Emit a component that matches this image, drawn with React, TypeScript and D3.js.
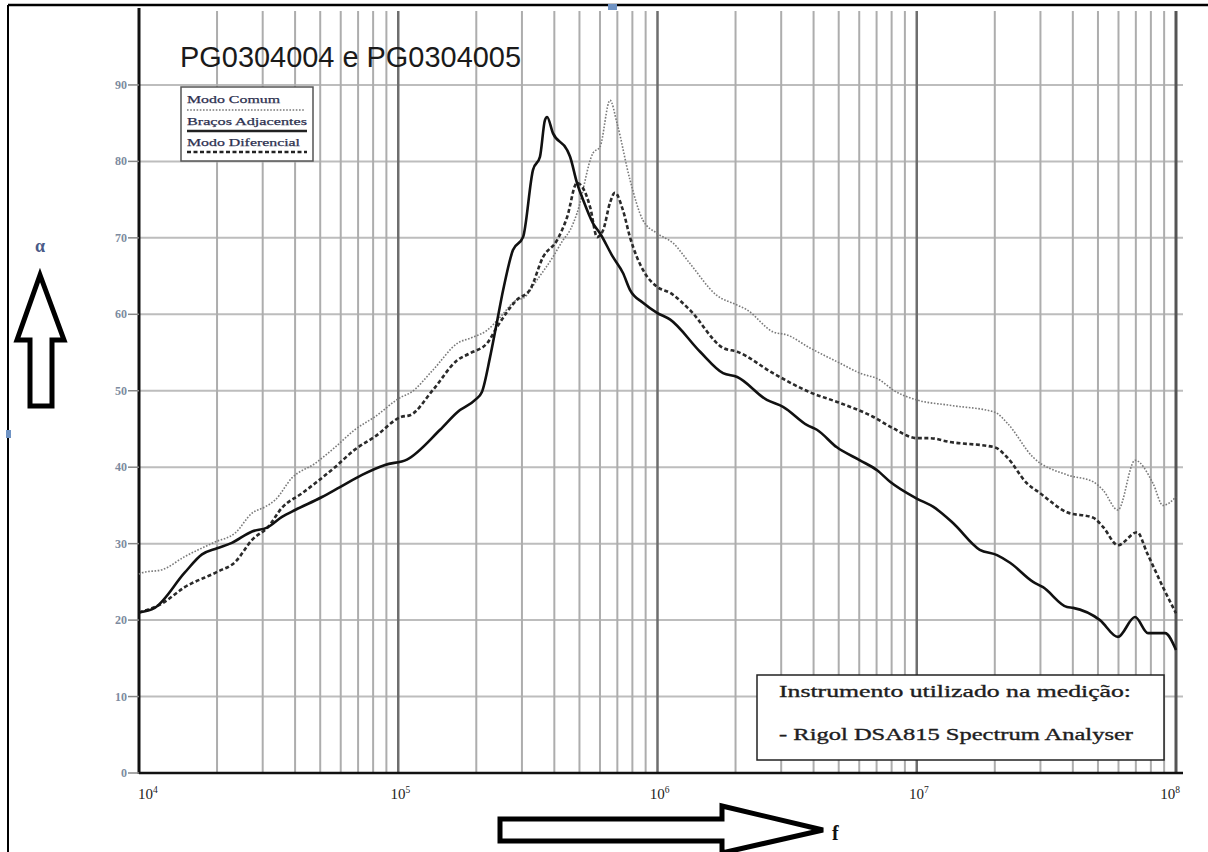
import React from 'react';
import * as d3 from 'd3';

// ---------- data ----------
const title = 'PG0304004 e PG0304005';
const legendLabels = ['Modo Comum', 'Braços Adjacentes', 'Modo Diferencial'];
const noteLines = ['Instrumento utilizado na medição:', '- Rigol DSA815 Spectrum Analyser'];
const xTickExps = [4, 5, 6, 7, 8];
const yTicks = [0, 10, 20, 30, 40, 50, 60, 70, 80, 90];

// Braços Adjacentes (solid)
const freqBracos = [1.0e4, 1.15e4, 1.5e4, 1.75e4, 2.0e4, 2.28e4, 2.73e4, 3.12e4, 3.56e4, 4.0e4, 5.08e4, 5.96e4, 7.25e4, 8.89e4, 1.08e5, 1.45e5, 1.69e5, 1.98e5, 2.1e5, 2.26e5, 2.4e5, 2.54e5, 2.77e5, 3.03e5, 3.31e5, 3.52e5, 3.68e5, 3.75e5, 3.95e5, 4.48e5, 4.6e5, 4.89e5, 5.16e5, 5.64e5, 6.0e5, 6.73e5, 7.36e5, 7.83e5, 8.79e5, 9.96e5, 1.12e6, 1.46e6, 1.79e6, 2.03e6, 2.64e6, 3.05e6, 3.78e6, 4.12e6, 4.92e6, 6.04e6, 7.03e6, 7.89e6, 1.0e7, 1.16e7, 1.38e7, 1.75e7, 2.04e7, 2.29e7, 2.81e7, 3.07e7, 3.8e7, 4.01e7, 5.09e7, 5.97e7, 6.95e7, 7.8e7, 9.07e7, 1.0e8];
const valBracos = [21, 21.6, 26.2, 28.6, 29.4, 30.1, 31.6, 32.1, 33.5, 34.4, 36.1, 37.4, 39.0, 40.3, 41, 44.9, 47.2, 48.8, 49.8, 54.4, 58.9, 63.2, 68.4, 70.1, 78.9, 80.6, 85.4, 85.8, 83.7, 81.5, 80.6, 77.2, 75, 71.9, 70.6, 67.5, 65.4, 63.2, 61.5, 60.2, 59.3, 55.1, 52.3, 51.8, 48.8, 47.9, 45.5, 44.9, 42.6, 40.9, 39.6, 38.1, 35.9, 34.8, 32.7, 29.2, 28.5, 27.5, 25, 24.3, 21.7, 21.6, 20, 17.8, 20.4, 18.3, 18.3, 16.1];

// Modo Comum (dotted)
const freqComum = [1.0e4, 1.03e4, 1.23e4, 1.5e4, 1.96e4, 2.35e4, 2.73e4, 3.06e4, 3.35e4, 3.89e4, 4.78e4, 5.7e4, 6.8e4, 8.13e4, 1.03e5, 1.11e5, 1.36e5, 1.69e5, 1.94e5, 2.2e5, 2.47e5, 2.87e5, 3.03e5, 3.43e5, 3.95e5, 4.32e5, 4.6e5, 4.89e5, 5.64e5, 6.0e5, 6.56e5, 6.98e5, 7.83e5, 8.79e5, 9.96e5, 1.15e6, 1.33e6, 1.69e6, 2.03e6, 2.21e6, 2.79e6, 3.16e6, 3.87e6, 5.06e6, 6.04e6, 7.21e6, 8.1e6, 1.0e7, 1.34e7, 2.0e7, 2.23e7, 2.81e7, 3.8e7, 4.79e7, 5.23e7, 5.97e7, 6.95e7, 8.15e7, 8.91e7, 1.0e8];
const valComum = [26, 26.2, 26.6, 28.3, 30.2, 31.4, 34, 34.8, 35.7, 38.6, 40.5, 42.6, 44.9, 46.6, 49.2, 49.7, 52.7, 56.2, 57, 57.9, 59.6, 61.9, 62.1, 64.5, 67.5, 69.7, 71, 73.2, 81.1, 81.9, 88, 85, 77.6, 72.3, 70.6, 69.3, 66.7, 62.5, 61.2, 60.6, 57.7, 57.3, 55.6, 53.6, 52.3, 51.4, 50.1, 48.8, 48.1, 47.2, 45.8, 41.3, 39, 38.1, 37, 34.4, 40.9, 37.9, 35, 36.1];

// Modo Diferencial (dashed)
const freqDif = [1.0e4, 1.23e4, 1.5e4, 2.0e4, 2.35e4, 2.73e4, 3.15e4, 3.56e4, 4.26e4, 4.78e4, 5.7e4, 6.8e4, 8.13e4, 1.03e5, 1.11e5, 1.36e5, 1.69e5, 1.89e5, 2.2e5, 2.4e5, 2.87e5, 3.22e5, 3.62e5, 4.1e5, 4.48e5, 4.89e5, 5.16e5, 5.5e5, 5.85e5, 6.17e5, 6.56e5, 6.85e5, 7.36e5, 7.83e5, 8.79e5, 9.96e5, 1.12e6, 1.33e6, 1.79e6, 2.03e6, 2.79e6, 3.87e6, 5.06e6, 6.78e6, 8.1e6, 1.0e7, 1.12e7, 1.34e7, 2.0e7, 2.23e7, 2.66e7, 2.99e7, 3.8e7, 4.79e7, 5.23e7, 5.97e7, 7.08e7, 7.73e7, 8.91e7, 1.0e8];
const valDif = [21, 22.2, 24.3, 26.3, 27.6, 30.5, 32.2, 34.7, 36.6, 37.9, 40, 42.3, 44, 46.6, 46.8, 50.1, 54, 54.9, 56.2, 58.3, 61.9, 63.2, 67.5, 69.7, 72.7, 77.2, 76.5, 74, 70.1, 71, 74.6, 75.9, 73.6, 70.1, 65.8, 63.6, 62.8, 60.6, 55.6, 55.1, 52.3, 49.8, 48.4, 46.6, 45.1, 43.8, 43.8, 43.3, 42.6, 41.3, 37.9, 36.6, 34.1, 33.4, 32.2, 29.8, 31.5, 28.8, 24.3, 20.9];

// ---------- chart ----------
const W = 1208;
const H = 852;

export default function App() {
  const x = d3.scaleLog().domain([1e4, 1e8]).range([139, 1176]);
  const y = d3.scaleLinear().domain([0, 100]).range([773, 8.5]);
  const gridTop = 11;
  const gridRight = 1183;

  const line = d3
    .line<[number, number]>()
    .x((d) => x(d[0]))
    .y((d) => y(d[1]))
    .curve(d3.curveMonotoneX);

  const zip = (f: number[], v: number[]) => f.map((ff, i) => [ff, v[i]] as [number, number]);

  const minor: number[] = [];
  for (let e = 4; e < 8; e++) for (let k = 2; k <= 9; k++) minor.push(k * Math.pow(10, e));
  const major = [1e5, 1e6, 1e7];

  const serif = '"Liberation Serif", "DejaVu Serif", serif';

  // arrows
  const upArrow = 'M40,275 L64,340 L52,340 L52,406 L30,406 L30,340 L17,340 Z';
  const rightArrow = 'M500,819 L722,819 L722,806 L823,830 L722,853 L722,841 L500,841 Z';

  return (
    <svg width={W} height={H} style={{ position: 'absolute', left: 0, top: 0, background: '#fff' }}>
      <rect x={0} y={0} width={W} height={H} fill="#fff" />
      {/* frame */}
      <line x1={8} y1={5} x2={W} y2={5} stroke="#000" strokeWidth={2.5} />
      <line x1={8} y1={5} x2={8} y2={H} stroke="#000" strokeWidth={2} />
      <rect x={608} y={4} width={9} height={6} fill="#6f93c4" />
      <rect x={6} y={430} width={5} height={8} fill="#6f93c4" />

      {/* horizontal grid */}
      {yTicks.filter((t) => t > 0).map((t) => (
        <line key={'h' + t} x1={139} x2={gridRight} y1={y(t)} y2={y(t)} stroke="#bdbdbd" strokeWidth={2} />
      ))}
      {/* vertical minor grid */}
      {minor.map((f) => (
        <line key={'m' + f} x1={x(f)} x2={x(f)} y1={gridTop} y2={y(0)} stroke="#adadad" strokeWidth={2} />
      ))}
      {major.map((f) => (
        <line key={'M' + f} x1={x(f)} x2={x(f)} y1={gridTop} y2={y(0)} stroke="#6e6e6e" strokeWidth={2.5} />
      ))}
      <line x1={x(1e8)} x2={x(1e8)} y1={gridTop} y2={y(0)} stroke="#555" strokeWidth={3} />

      {/* axes */}
      <line x1={139} x2={139} y1={8} y2={y(0) + 1} stroke="#111" strokeWidth={3} />
      <line x1={139} x2={gridRight} y1={y(0)} y2={y(0)} stroke="#111" strokeWidth={2.5} />

      {/* y ticks */}
      {yTicks.map((t) => (
        <g key={'yt' + t}>
          <line x1={128} x2={139} y1={y(t)} y2={y(t)} stroke="#888" strokeWidth={1.5} />
          <text x={127} y={y(t) + 4} textAnchor="end" fontFamily={serif} fontWeight="bold" fontSize={12} fill="#7d8ba0">
            {t}
          </text>
        </g>
      ))}

      {/* x tick labels */}
      {xTickExps.map((e, i) => {
        const px = x(Math.pow(10, e));
        const anchor = i === 0 ? 'start' : i === xTickExps.length - 1 ? 'end' : 'middle';
        const tx = i === 0 ? px - 1 : i === xTickExps.length - 1 ? px + 4 : px + 2;
        return (
          <text key={'xt' + e} x={tx} y={799} textAnchor={anchor} fontFamily={serif} fontSize={15} fill="#222">
            10
            <tspan dy={-6} fontSize={9.5}>
              {e}
            </tspan>
          </text>
        );
      })}

      {/* series */}
      <path d={line(zip(freqComum, valComum)) || ''} fill="none" stroke="#7a7a7a" strokeWidth={1.6} strokeDasharray="1.6,1.6" />
      <path d={line(zip(freqDif, valDif)) || ''} fill="none" stroke="#2a2a2a" strokeWidth={2.6} strokeDasharray="4,2.5" />
      <path d={line(zip(freqBracos, valBracos)) || ''} fill="none" stroke="#111" strokeWidth={2.6} />

      {/* title */}
      <text x={180} y={67} fontFamily='"Liberation Sans Narrow", "Liberation Sans", Arial, sans-serif' fontSize={30} fill="#1a1a1a" textLength={341} lengthAdjust="spacingAndGlyphs">
        {title}
      </text>

      {/* legend */}
      <rect x={181} y={87} width={132} height={74} fill="#fff" stroke="#555" strokeWidth={1.5} />
      <text x={187} y={103} fontFamily={serif} fontSize={11} fill="#2d3150" stroke="#2d3150" strokeWidth={0.25} textLength={93} lengthAdjust="spacingAndGlyphs">
        {legendLabels[0]}
      </text>
      <line x1={187} x2={305} y1={110} y2={110} stroke="#7a7a7a" strokeWidth={1.6} strokeDasharray="1.6,1.6" />
      <text x={187} y={125} fontFamily={serif} fontSize={11} fill="#2d3150" stroke="#2d3150" strokeWidth={0.25} textLength={120} lengthAdjust="spacingAndGlyphs">
        {legendLabels[1]}
      </text>
      <line x1={187} x2={307} y1={131} y2={131} stroke="#222" strokeWidth={2.5} />
      <text x={187} y={146} fontFamily={serif} fontSize={11} fill="#2d3150" stroke="#2d3150" strokeWidth={0.25} textLength={113} lengthAdjust="spacingAndGlyphs">
        {legendLabels[2]}
      </text>
      <line x1={187} x2={307} y1={152} y2={152} stroke="#222" strokeWidth={2.5} strokeDasharray="4,2.5" />

      {/* note box */}
      <rect x={757} y={675} width={407} height={85} fill="#fff" stroke="#222" strokeWidth={1.5} />
      <text x={779} y={697} fontFamily={serif} fontSize={17} fill="#1e1e1e" stroke="#1e1e1e" strokeWidth={0.35} textLength={352} lengthAdjust="spacingAndGlyphs">
        {noteLines[0]}
      </text>
      <text x={779} y={740} fontFamily={serif} fontSize={17} fill="#1e1e1e" stroke="#1e1e1e" strokeWidth={0.35} textLength={354} lengthAdjust="spacingAndGlyphs">
        {noteLines[1]}
      </text>

      {/* axis arrows */}
      <text x={40} y={252} textAnchor="middle" fontFamily={serif} fontSize={18} fontWeight="bold" fill="#4a5a88">
        α
      </text>
      <path d={upArrow} fill="#fff" stroke="#000" strokeWidth={5} strokeLinejoin="miter" />
      <path d={rightArrow} fill="#fff" stroke="#000" strokeWidth={5} strokeLinejoin="miter" />
      <text x={832} y={840} fontFamily={serif} fontSize={20} fontWeight="bold" fill="#111">
        f
      </text>
    </svg>
  );
}
